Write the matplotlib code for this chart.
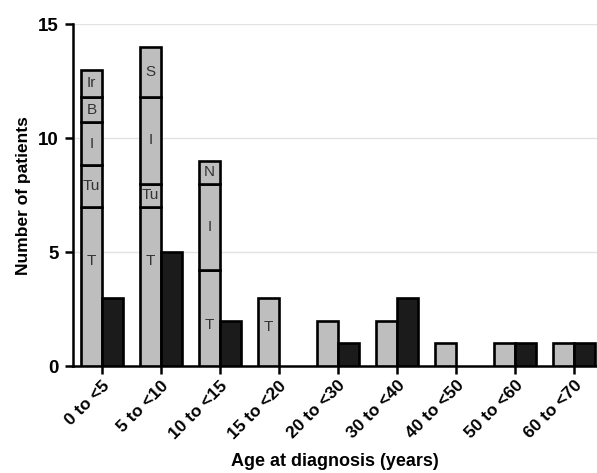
import matplotlib
matplotlib.use("Agg")
import matplotlib.pyplot as plt
import numpy as np

plt.rcParams['font.family'] = ['Liberation Sans', 'DejaVu Sans']

categories = ["0 to <5", "5 to <10", "10 to <15", "15 to <20", "20 to <30",
              "30 to <40", "40 to <50", "50 to <60", "60 to <70"]

# Stacked (grey) bars: list of (label, height) segments per age group, bottom to top
grey_segments = [
    [("T", 7.0), ("Tu", 1.8), ("I", 1.9), ("B", 1.1), ("Ir", 1.2)],
    [("T", 7.0), ("Tu", 1.0), ("I", 3.8), ("S", 2.2)],
    [("T", 4.2), ("I", 3.8), ("N", 1.0)],
    [("T", 3.0)],
    [("", 2.0)],
    [("", 2.0)],
    [("", 1.0)],
    [("", 1.0)],
    [("", 1.0)],
]
# Fraction of each "T" segment height where its letter sits
t_label_frac = [0.66, 0.66, 0.43, 0.57, 0.5, 0.5, 0.5, 0.5, 0.5]

black_values = [3, 5, 2, 0, 1, 3, 0, 1, 1]

grey = "#bebebe"
dark = "#1b1b1b"

fig = plt.figure(figsize=(5.97, 4.73), dpi=100)
ax = fig.add_axes([0.1223, 0.226, 0.8777, 0.723])

x = np.arange(len(categories))
w = 0.35

for i, segs in enumerate(grey_segments):
    bottom = 0.0
    for label, h in segs:
        ax.bar(x[i] - w / 2, h, w, bottom=bottom, color=grey,
               edgecolor="black", linewidth=1.9, zorder=3)
        if label:
            frac = t_label_frac[i] if label == "T" else 0.5
            ax.text(x[i] - w / 2, bottom + h * frac, label, ha="center",
                    va="center", fontsize=11, color="#333333", zorder=4)
        bottom += h

# empty groups get no outline so nothing sits on the baseline
black_lw = [1.9 if v > 0 else 0 for v in black_values]
ax.bar(x + w / 2, black_values, w, color=dark, edgecolor="black",
       linewidth=black_lw, zorder=3)

ax.set_xlim(-0.49, 8.39)
ax.set_ylim(0, 15)
ax.set_yticks([0, 5, 10, 15])
for yv in [5, 10, 15]:
    ax.axhline(yv, color="#e3e3e3", linewidth=1.0, zorder=1)

ax.set_xticks(x)
ax.set_xticklabels(categories, rotation=45, ha="right", rotation_mode="anchor",
                   fontsize=12.5, fontweight="bold")
for lbl in ax.get_yticklabels():
    lbl.set_fontweight("bold")
    lbl.set_fontsize(13.5)

for s in ["top", "right"]:
    ax.spines[s].set_visible(False)
for s in ["left", "bottom"]:
    ax.spines[s].set_linewidth(1.8)
ax.tick_params(axis="both", length=5.5, width=1.8, direction="out")
ax.tick_params(axis="x", pad=3)
ax.tick_params(axis="y", pad=5)

ax.set_xlabel("Age at diagnosis (years)", fontsize=13, fontweight="bold",
              labelpad=8)
ax.set_ylabel("Number of patients", fontsize=12.5, fontweight="bold",
              labelpad=5)

fig.savefig("out.png", dpi=100)
